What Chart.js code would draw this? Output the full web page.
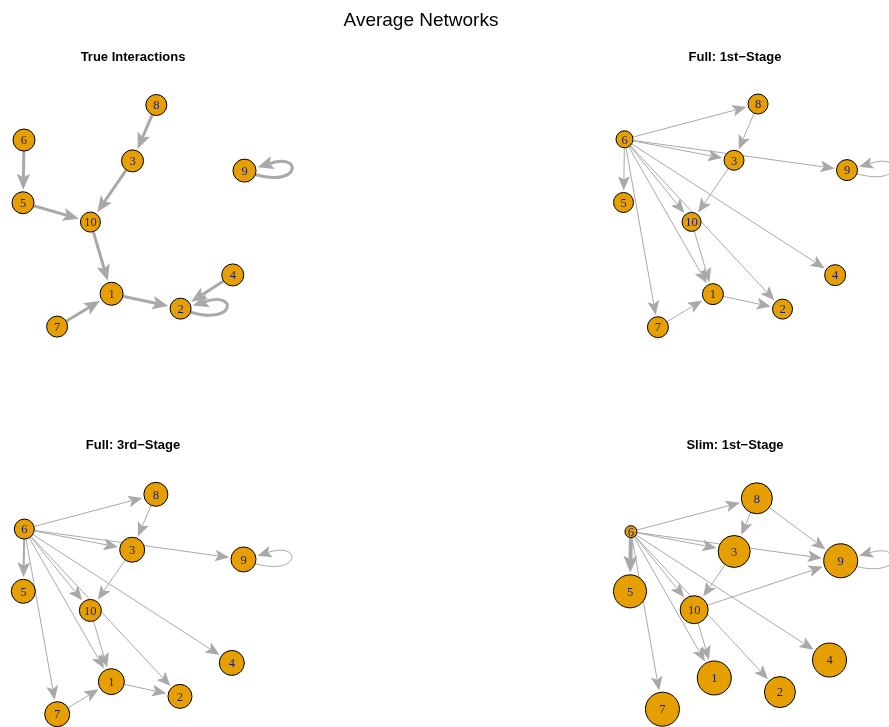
<!DOCTYPE html>
<html lang="en">
<head>
<meta charset="UTF-8">
<title>Average Networks</title>
<script src="https://cdn.jsdelivr.net/npm/chart.js"></script>
<style>
  body { margin: 0; padding: 0; background: #ffffff; }
  .stage { position: relative; width: 889px; height: 727px; overflow: hidden; }
  .stage canvas { position: absolute; left: 0; top: 0; }
</style>
</head>
<body>
<div class="stage">
  <canvas id="trueChart" width="889" height="727"></canvas>
  <canvas id="full1Chart" width="889" height="727"></canvas>
  <canvas id="full3Chart" width="889" height="727"></canvas>
  <canvas id="slim1Chart" width="889" height="727"></canvas>
</div>
<script>
// nodes and their layout (shared by all four networks)
const nodeLabels = ['1', '2', '3', '4', '5', '6', '7', '8', '9', '10'];
const layoutX = [-0.200, 0.423, -0.011, 0.894, -1.000, -0.991, -0.692, 0.204, 1.000, -0.391];
const layoutY = [-0.703, -0.837, 0.496, -0.533, 0.118, 0.684, -0.999, 1.000, 0.408, -0.056];

// vertex sizes (radius) per network, nodes 1..10
const sizeTrue  = [11.5, 10.5, 11, 11, 11, 11, 10.5, 10.5, 11.5, 10];
const sizeFull1 = [10.5, 10, 10, 10.5, 10, 8.5, 10.5, 10, 10.5, 9.5];
const sizeFull3 = [13, 12, 12.5, 12.5, 12, 10, 12.5, 12, 12.5, 11];
const sizeSlim1 = [17, 15.5, 16, 17, 16.5, 6, 17, 15.5, 17, 14];

// edges: [from, to, width]
const edgesTrue = [
  [8, 3, 3], [6, 5, 3], [3, 10, 3], [5, 10, 3], [10, 1, 3],
  [7, 1, 3], [1, 2, 3], [4, 2, 3], [2, 2, 3], [9, 9, 3]
];
const edgesFull1 = [
  [6, 8, 1], [6, 3, 1], [6, 9, 1], [6, 5, 1], [6, 10, 1], [6, 2, 1], [6, 4, 1],
  [6, 1, 1], [6, 7, 1], [8, 3, 1], [3, 10, 1], [10, 1, 1], [7, 1, 1], [1, 2, 1], [9, 9, 1]
];
const edgesFull3 = [
  [6, 8, 1], [6, 3, 1], [6, 9, 1], [6, 5, 2], [6, 10, 1], [6, 2, 1], [6, 4, 1],
  [6, 1, 1], [6, 7, 1], [8, 3, 1], [3, 10, 1], [10, 1, 1], [7, 1, 1], [1, 2, 1], [9, 9, 1]
];
const edgesSlim1 = [
  [6, 8, 1], [6, 3, 1], [6, 9, 1], [6, 5, 4], [6, 10, 1], [6, 2, 1], [6, 4, 1],
  [6, 1, 1], [6, 7, 1], [8, 3, 1], [8, 9, 1], [3, 10, 1], [10, 9, 1], [10, 1, 1], [9, 9, 1]
];

const W = 889, H = 727;
const edgeColor = '#a9a9a9';
const nodeColor = '#e69f00';

// x: pixel of layout -1 and +1, y: pixel of layout +1 and -1
function ranges(xLeft, xRight, yTop, yBottom) {
  const sx = (xRight - xLeft) / 2;
  const xmin = -1 - xLeft / sx;
  const sy = (yBottom - yTop) / 2;
  const ymax = 1 + yTop / sy;
  return { xmin: xmin, xmax: xmin + W / sx, ymin: ymax - H / sy, ymax: ymax };
}

function arrowHead(ctx, tx, ty, ux, uy, w) {
  const L = 13 + 1.0 * w, hw = 5.5 + 0.4 * w;
  const bx = tx - ux * L, by = ty - uy * L;
  const nx = tx - ux * L * 0.72, ny = ty - uy * L * 0.72;
  ctx.beginPath();
  ctx.moveTo(tx, ty);
  ctx.lineTo(bx - uy * hw, by + ux * hw);
  ctx.quadraticCurveTo(nx - ux * 1.5, ny - uy * 1.5, nx, ny);
  ctx.quadraticCurveTo(nx - ux * 1.5, ny - uy * 1.5, bx + uy * hw, by - ux * hw);
  ctx.closePath();
  ctx.fill();
  return [nx, ny];
}

const networkPlugin = {
  id: 'network',
  beforeDatasetsDraw(chart, args, opts) {
    const ctx = chart.ctx;
    const pts = chart.getDatasetMeta(0).data;
    const rad = chart.data.datasets[0].data.map(d => d.r);
    ctx.save();
    ctx.strokeStyle = edgeColor;
    ctx.fillStyle = edgeColor;
    ctx.lineCap = 'butt';
    opts.edges.forEach(e => {
      const a = e[0] - 1, b = e[1] - 1, w = e[2];
      const p = pts[a], q = pts[b];
      ctx.lineWidth = w;
      if (a === b) {
        // self loop on the right-hand side of the vertex
        const r = rad[a];
        const ang = -15 * Math.PI / 180;
        const tx = p.x + (r + 2) * Math.cos(ang), ty = p.y + (r + 2) * Math.sin(ang);
        let ux = -1, uy = 0.3;
        const ul = Math.hypot(ux, uy); ux /= ul; uy /= ul;
        const n = arrowHead(ctx, tx, ty, ux, uy, w);
        const s = 20 * Math.PI / 180;
        ctx.beginPath();
        ctx.moveTo(p.x + r * Math.cos(s), p.y + r * Math.sin(s));
        ctx.bezierCurveTo(p.x + r + 46, p.y + 17, p.x + r + 46, p.y - 19, n[0], n[1]);
        ctx.stroke();
        return;
      }
      const dx = q.x - p.x, dy = q.y - p.y, len = Math.hypot(dx, dy);
      const ux = dx / len, uy = dy / len;
      const tx = q.x - ux * (rad[b] + 2), ty = q.y - uy * (rad[b] + 2);
      const n = arrowHead(ctx, tx, ty, ux, uy, w);
      ctx.beginPath();
      ctx.moveTo(p.x + ux * rad[a], p.y + uy * rad[a]);
      ctx.lineTo(n[0] + ux, n[1] + uy);
      ctx.stroke();
    });
    ctx.restore();
  },
  afterDatasetsDraw(chart, args, opts) {
    const ctx = chart.ctx;
    const pts = chart.getDatasetMeta(0).data;
    ctx.save();
    ctx.fillStyle = '#1c1c80';
    ctx.font = "12.5px 'Liberation Serif', 'DejaVu Serif', serif";
    ctx.textAlign = 'center';
    ctx.textBaseline = 'middle';
    pts.forEach((pt, i) => ctx.fillText(nodeLabels[i], pt.x, pt.y + 1));
    // panel title
    ctx.fillStyle = '#000000';
    ctx.textBaseline = 'alphabetic';
    ctx.font = "bold 13px 'Liberation Sans', Arial, sans-serif";
    ctx.fillText(opts.title, opts.titleX, opts.titleY);
    if (opts.mainTitle) {
      ctx.font = "19px 'Liberation Sans', Arial, sans-serif";
      ctx.fillText(opts.mainTitle, 421, 26);
    }
    ctx.restore();
  }
};

function makeNetwork(id, sizes, edges, title, titleX, titleY, box, mainTitle) {
  const rg = ranges(box[0], box[1], box[2], box[3]);
  return new Chart(document.getElementById(id), {
    type: 'bubble',
    data: {
      datasets: [{
        data: nodeLabels.map((n, i) => ({ x: layoutX[i], y: layoutY[i], r: sizes[i] })),
        backgroundColor: nodeColor,
        borderColor: '#000000',
        borderWidth: 1,
        hoverRadius: 0,
        hoverBorderWidth: 1,
        clip: false
      }]
    },
    options: {
      responsive: false,
      animation: false,
      devicePixelRatio: 1,
      events: [],
      layout: { padding: 0, autoPadding: false },
      scales: {
        x: { type: 'linear', display: false, min: rg.xmin, max: rg.xmax },
        y: { type: 'linear', display: false, min: rg.ymin, max: rg.ymax }
      },
      plugins: {
        legend: { display: false },
        tooltip: { enabled: false },
        network: { edges: edges, title: title, titleX: titleX, titleY: titleY, mainTitle: mainTitle }
      }
    },
    plugins: [networkPlugin]
  });
}

makeNetwork('trueChart', sizeTrue, edgesTrue, 'True Interactions', 133, 61, [23, 244.5, 105, 326.7], 'Average Networks');
makeNetwork('full1Chart', sizeFull1, edgesFull1, 'Full: 1st\u2212Stage', 735, 61, [623.5, 847, 104, 327.3]);
makeNetwork('full3Chart', sizeFull3, edgesFull3, 'Full: 3rd\u2212Stage', 133, 449, [23.3, 243.5, 494.3, 714.3]);
makeNetwork('slim1Chart', sizeSlim1, edgesSlim1, 'Slim: 1st\u2212Stage', 735, 449, [630, 840.7, 498.3, 709.3]);
</script>
</body>
</html>
